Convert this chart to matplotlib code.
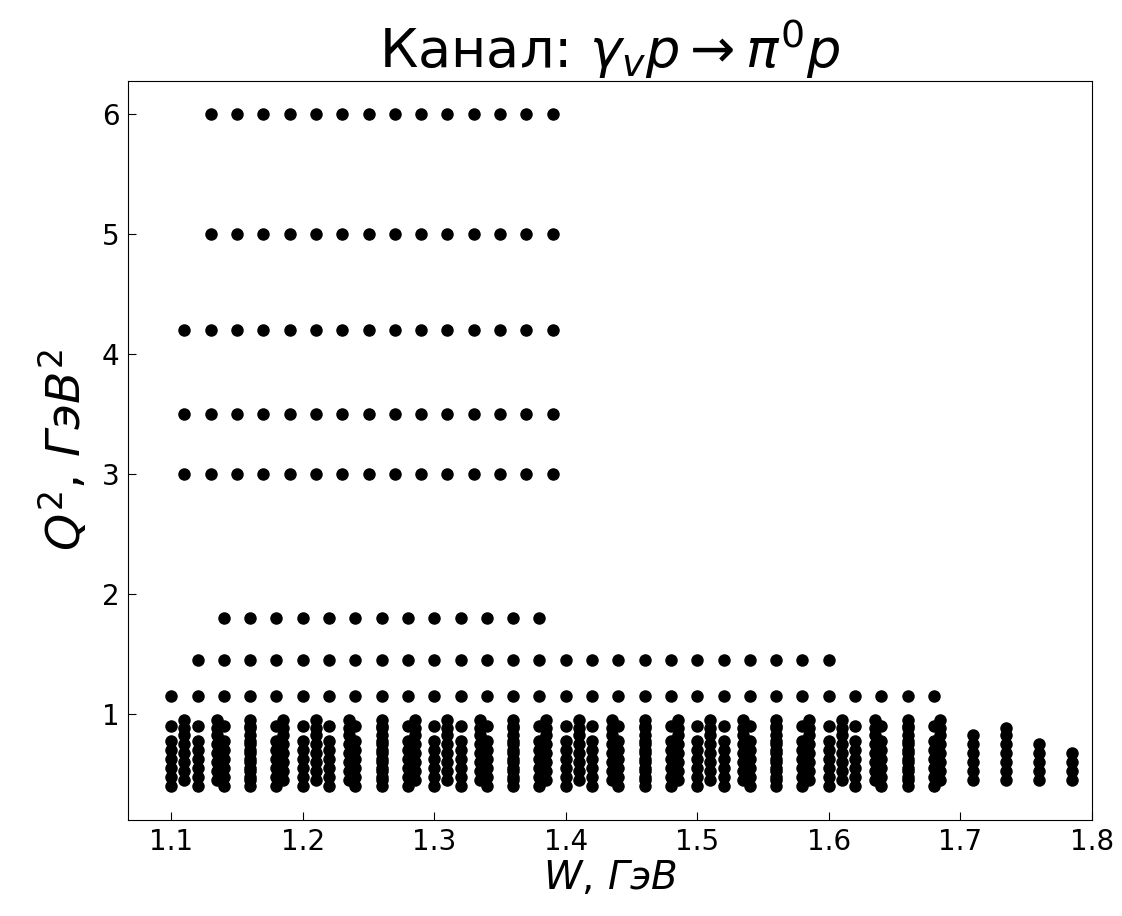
import numpy as np
import matplotlib
matplotlib.use("Agg")
from matplotlib import pyplot as plt

# high-Q2 rows: (Q2, first W, last W), step 0.02 GeV in W
row_q2 = [6.0, 5.0, 4.2, 3.5, 3.0, 1.8, 1.45, 1.15]
row_w_first = [1.13, 1.13, 1.11, 1.11, 1.11, 1.14, 1.12, 1.10]
row_w_last = [1.39, 1.39, 1.39, 1.39, 1.39, 1.38, 1.60, 1.68]

# low-Q2 set A: W grid 1.10..1.68 (step 0.02)
w_a = np.round(np.arange(1.10, 1.681, 0.02), 3)
q2_a = [0.40, 0.475, 0.55, 0.625, 0.70, 0.775, 0.90]

# low-Q2 set B: W grid 1.11..1.785 (step 0.025), upper Q2 limited at high W
w_b = np.round(np.arange(1.11, 1.786, 0.025), 3)
q2_b = [0.45, 0.525, 0.60, 0.675, 0.75, 0.825, 0.885, 0.955]
q2_b_max = [0.955] * 24 + [0.825, 0.885, 0.75, 0.675]


def collect():
    ws, qs = [], []
    for q, w0, w1 in zip(row_q2, row_w_first, row_w_last):
        for w in np.arange(w0, w1 + 1e-6, 0.02):
            ws.append(w)
            qs.append(q)
    for w in w_a:
        for q in q2_a:
            ws.append(w)
            qs.append(q)
    for w, qmax in zip(w_b, q2_b_max):
        for q in q2_b:
            if q <= qmax + 1e-6:
                ws.append(w)
                qs.append(q)
    return np.array(ws), np.array(qs)


W, Q2 = collect()

fig, ax = plt.subplots(figsize=(11.22, 9.16), dpi=100)
fig.subplots_adjust(left=0.114, right=0.973, top=0.912, bottom=0.105)

ax.plot(W, Q2, 'o', color='k', markersize=9, markeredgewidth=0)

ax.set_xlim(1.067, 1.80)
ax.set_xticks([1.1, 1.2, 1.3, 1.4, 1.5, 1.6, 1.7, 1.8])
ax.tick_params(direction='in', labelsize=20, length=6, pad=6)
ax.set_title(r'Канал: $\gamma_v p \rightarrow \pi^0 p$', fontsize=39, pad=8)
ax.set_xlabel(r'$W,\,ГэВ$', fontsize=28, labelpad=2)
ax.set_ylabel(r'$Q^2,\,ГэВ^2$', fontsize=34, labelpad=8)

fig.savefig("out.png", dpi=100)
